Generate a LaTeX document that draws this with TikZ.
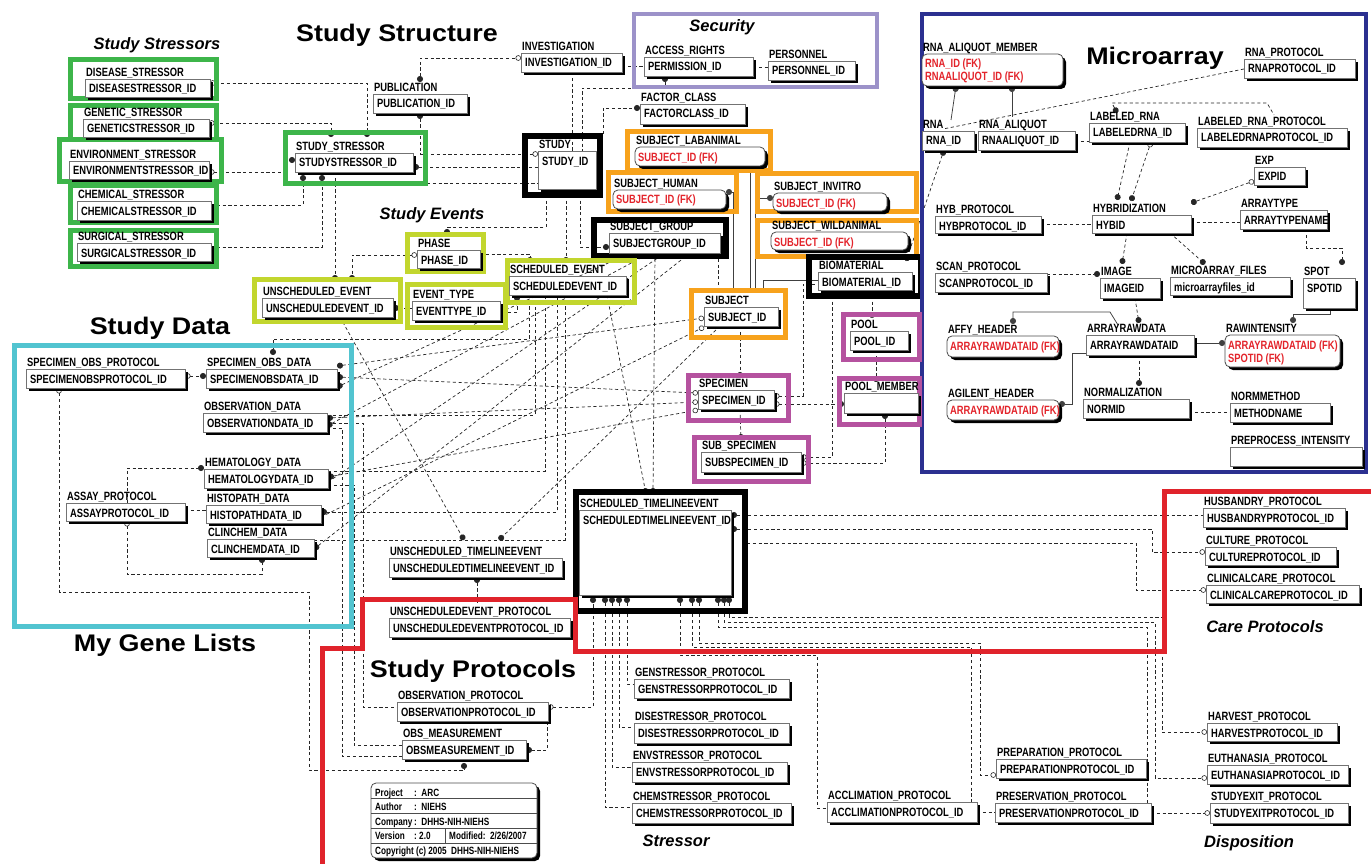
\documentclass[tikz,border=0pt]{standalone}
\usepackage{fontspec}
\setmainfont{Liberation Sans}
\newfontfamily\labf{Liberation Sans}[FakeStretch=0.78]
\newfontfamily\bigf{Liberation Sans}[FakeStretch=1.12]
\usetikzlibrary{arrows.meta}
\pgfdeclarelayer{bg}\pgfdeclarelayer{mid}\pgfsetlayers{bg,mid,main}
\definecolor{cgreen}{HTML}{3DB54A}
\definecolor{clime}{HTML}{C2D62E}
\definecolor{corange}{HTML}{F7A21C}
\definecolor{cpurple}{HTML}{B5529F}
\definecolor{ccyan}{HTML}{52C4D0}
\definecolor{clav}{HTML}{9C92C9}
\definecolor{cnavy}{HTML}{2B3090}
\definecolor{cred}{HTML}{E0232B}
\definecolor{fkred}{HTML}{E3242B}
\tikzset{
 lab/.style={font=\labf\bfseries\fontsize{12}{13}\selectfont, inner sep=0pt, anchor=base west},
 tab/.style={font=\labf\bfseries\fontsize{10.5}{12}\selectfont, inner sep=0pt, anchor=base west},
 ebox/.style={draw=black!55, line width=0.8pt, fill=white, anchor=north west, inner sep=0pt, outer sep=0pt},
 con/.style={dash pattern=on 3.2pt off 2.6pt, line width=0.7pt, black!85},
 sol/.style={line width=0.75pt, black!75},
 grp/.style={line width=5pt},
 bigt/.style={font=\bigf\bfseries\fontsize{24}{26}\selectfont, inner sep=0pt},
 itt/.style={font=\bfseries\itshape\fontsize{16.5}{18}\selectfont, inner sep=0pt},
 od/.tip={Circle[open,length=5.5pt,width=5.5pt,fill=white,line width=0.6pt]},
 fd/.tip={Circle[length=6pt,width=6pt]},
}
\newcommand\ent[7]{%
 \fill[black] (#2+3,#3+3) rectangle (#4+3,#5+3);
 \node[ebox, minimum width=#4pt-#2pt, minimum height=#5pt-#3pt] (#1) at (#2,#3) {};
 \node[lab] (#1k) at (#2+4,#3+14) {#7};
 \node[lab] (#1h) at (#2+1,#3-2.5) {#6};
}
\newcommand\rent[7]{%
 \fill[black, rounded corners=5pt] (#2+3,#3+3) rectangle (#4+3,#5+3);
 \node[ebox, rounded corners=5pt, draw=black!70, minimum width=#4pt-#2pt, minimum height=#5pt-#3pt] (#1) at (#2,#3) {};
 \node[lab, text=fkred] (#1k) at (#2+3,#3+14) {#7};
 \node[lab] (#1h) at (#2+1,#3-2.5) {#6};
}
\begin{document}
\begin{tikzpicture}[x=1pt,y=-1pt]
\useasboundingbox (0,0) rectangle (1371,864);

% ---------------- entities ----------------
\ent{dst}{85}{79}{210}{97}{DISEASE\_STRESSOR}{DISEASESTRESSOR\_ID}
\ent{gst}{83}{119}{209}{137}{GENETIC\_STRESSOR}{GENETICSTRESSOR\_ID}
\ent{est}{69}{161}{209}{179}{ENVIRONMENT\_STRESSOR}{ENVIRONMENTSTRESSOR\_ID}
\ent{cst}{77}{201}{211}{220}{CHEMICAL\_STRESSOR}{CHEMICALSTRESSOR\_ID}
\ent{sst}{77}{243}{211}{261}{SURGICAL\_STRESSOR}{SURGICALSTRESSOR\_ID}
\ent{sts}{295}{153}{413}{172}{STUDY\_STRESSOR}{STUDYSTRESSOR\_ID}
\ent{pub}{373}{94}{467}{113}{PUBLICATION}{PUBLICATION\_ID}
\ent{inv}{521}{53}{622}{72}{INVESTIGATION}{INVESTIGATION\_ID}
\ent{acc}{644}{57}{753}{76}{ACCESS\_RIGHTS}{PERMISSION\_ID}
\ent{per}{768}{61}{855}{80}{PERSONNEL}{PERSONNEL\_ID}
\ent{fac}{640}{104}{745}{124}{FACTOR\_CLASS}{FACTORCLASS\_ID}
\ent{stu}{538}{151}{596}{189}{STUDY}{STUDY\_ID}
\rent{slab}{635}{147}{765}{166}{SUBJECT\_LABANIMAL}{SUBJECT\_ID (FK)}
\rent{shum}{613}{190}{726}{209}{SUBJECT\_HUMAN}{SUBJECT\_ID (FK)}
\rent{sinv}{773}{193}{887}{211}{SUBJECT\_INVITRO}{SUBJECT\_ID (FK)}
\rent{swild}{771}{232}{908}{250}{SUBJECT\_WILDANIMAL}{SUBJECT\_ID (FK)}
\ent{sgrp}{609}{233}{720}{253}{SUBJECT\_GROUP}{SUBJECTGROUP\_ID}
\ent{bio}{818}{272}{912}{290}{BIOMATERIAL}{BIOMATERIAL\_ID}
\rent{rnam}{922}{54}{1063}{86}{RNA\_ALIQUOT\_MEMBER}{RNA\_ID (FK)}
\node[lab, text=fkred] (rnam2) at (925,81) {RNAALIQUOT\_ID (FK)};
\ent{rnap}{1244}{59}{1355}{78}{RNA\_PROTOCOL}{RNAPROTOCOL\_ID}
\ent{rna}{922}{131}{974}{150}{RNA}{RNA\_ID}
\ent{rnaa}{978}{131}{1075}{150}{RNA\_ALIQUOT}{RNAALIQUOT\_ID}
\ent{lrna}{1089}{123}{1185}{142}{LABELED\_RNA}{LABELEDRNA\_ID}
\ent{lrnap}{1197}{128}{1347}{147}{LABELED\_RNA\_PROTOCOL}{LABELEDRNAPROTOCOL\_ID}
\ent{exp}{1254}{167}{1305}{185}{EXP}{EXPID}
\ent{hybp}{935}{216}{1041}{233}{HYB\_PROTOCOL}{HYBPROTOCOL\_ID}
\ent{hyb}{1092}{215}{1191}{233}{HYBRIDIZATION}{HYBID}
\ent{atype}{1240}{210}{1327}{229}{ARRAYTYPE}{ARRAYTYPENAME}
\ent{scanp}{935}{273}{1047}{292}{SCAN\_PROTOCOL}{SCANPROTOCOL\_ID}
\ent{img}{1100}{278}{1160}{298}{IMAGE}{IMAGEID}
\ent{maf}{1170}{277}{1290}{295}{MICROARRAY\_FILES}{microarrayfiles\_id}
\ent{spot}{1303}{278}{1355}{308}{SPOT}{SPOTID}
\rent{affy}{947}{336}{1059}{357}{AFFY\_HEADER}{ARRAYRAWDATAID (FK)}
\ent{ard}{1086}{335}{1194}{355}{ARRAYRAWDATA}{ARRAYRAWDATAID}
\rent{rawi}{1225}{335}{1340}{367}{RAWINTENSITY}{ARRAYRAWDATAID (FK)}
\node[lab, text=fkred] (rawi2) at (1228,362) {SPOTID (FK)};
\rent{agil}{947}{400}{1059}{420}{AGILENT\_HEADER}{ARRAYRAWDATAID (FK)}
\ent{norm}{1083}{399}{1189}{418}{NORMALIZATION}{NORMID}
\ent{nmeth}{1230}{403}{1330}{422}{NORMMETHOD}{METHODNAME}
\ent{ppi}{1230}{447}{1362}{466}{PREPROCESS\_INTENSITY}{}
\ent{phase}{417}{250}{480}{268}{PHASE}{PHASE\_ID}
\ent{uev}{262}{298}{393}{317}{UNSCHEDULED\_EVENT}{UNSCHEDULEDEVENT\_ID}
\ent{evt}{412}{301}{500}{320}{EVENT\_TYPE}{EVENTTYPE\_ID}
\ent{sev}{509}{276}{626}{295}{SCHEDULED\_EVENT}{SCHEDULEDEVENT\_ID}
\ent{subj}{704}{307}{778}{326}{SUBJECT}{SUBJECT\_ID}
\ent{pool}{850}{331}{908}{350}{POOL}{POOL\_ID}
\ent{poolm}{844}{393}{918}{413}{POOL\_MEMBER}{}
\ent{spec}{698}{390}{774}{409}{SPECIMEN}{SPECIMEN\_ID}
\ent{sspec}{701}{452}{801}{472}{SUB\_SPECIMEN}{SUBSPECIMEN\_ID}
\ent{sop}{26}{369}{185}{388}{SPECIMEN\_OBS\_PROTOCOL}{SPECIMENOBSPROTOCOL\_ID}
\ent{sod}{206}{369}{337}{388}{SPECIMEN\_OBS\_DATA}{SPECIMENOBSDATA\_ID}
\ent{obd}{203}{413}{327}{432}{OBSERVATION\_DATA}{OBSERVATIONDATA\_ID}
\ent{hem}{204}{469}{328}{488}{HEMATOLOGY\_DATA}{HEMATOLOGYDATA\_ID}
\ent{asp}{66}{503}{185}{521}{ASSAY\_PROTOCOL}{ASSAYPROTOCOL\_ID}
\ent{his}{206}{505}{321}{523}{HISTOPATH\_DATA}{HISTOPATHDATA\_ID}
\ent{cli}{207}{539}{314}{557}{CLINCHEM\_DATA}{CLINCHEMDATA\_ID}
\ent{ute}{389}{558}{562}{577}{UNSCHEDULED\_TIMELINEEVENT}{UNSCHEDULEDTIMELINEEVENT\_ID}
\ent{ste}{579}{510}{731}{595}{SCHEDULED\_TIMELINEEVENT}{SCHEDULEDTIMELINEEVENT\_ID}
\ent{uep}{389}{618}{570}{637}{UNSCHEDULEDEVENT\_PROTOCOL}{UNSCHEDULEDEVENTPROTOCOL\_ID}
\ent{obp}{397}{702}{548}{721}{OBSERVATION\_PROTOCOL}{OBSERVATIONPROTOCOL\_ID}
\ent{obm}{402}{740}{526}{759}{OBS\_MEASUREMENT}{OBSMEASUREMENT\_ID}
\ent{gsp}{634}{679}{789}{698}{GENSTRESSOR\_PROTOCOL}{GENSTRESSORPROTOCOL\_ID}
\ent{dsp}{634}{723}{789}{743}{DISESTRESSOR\_PROTOCOL}{DISESTRESSORPROTOCOL\_ID}
\ent{esp}{632}{762}{787}{782}{ENVSTRESSOR\_PROTOCOL}{ENVSTRESSORPROTOCOL\_ID}
\ent{csp}{632}{803}{791}{823}{CHEMSTRESSOR\_PROTOCOL}{CHEMSTRESSORPROTOCOL\_ID}
\ent{husp}{1203}{508}{1345}{527}{HUSBANDRY\_PROTOCOL}{HUSBANDRYPROTOCOL\_ID}
\ent{culp}{1205}{547}{1336}{565}{CULTURE\_PROTOCOL}{CULTUREPROTOCOL\_ID}
\ent{clcp}{1206}{585}{1359}{603}{CLINICALCARE\_PROTOCOL}{CLINICALCAREPROTOCOL\_ID}
\ent{harp}{1207}{723}{1337}{741}{HARVEST\_PROTOCOL}{HARVESTPROTOCOL\_ID}
\ent{euthp}{1207}{765}{1348}{784}{EUTHANASIA\_PROTOCOL}{EUTHANASIAPROTOCOL\_ID}
\ent{sexp}{1210}{803}{1348}{823}{STUDYEXIT\_PROTOCOL}{STUDYEXITPROTOCOL\_ID}
\ent{prepp}{996}{759}{1146}{778}{PREPARATION\_PROTOCOL}{PREPARATIONPROTOCOL\_ID}
\ent{presp}{995}{803}{1151}{822}{PRESERVATION\_PROTOCOL}{PRESERVATIONPROTOCOL\_ID}
\ent{accp}{827}{802}{977}{822}{ACCLIMATION\_PROTOCOL}{ACCLIMATIONPROTOCOL\_ID}

% info table
\fill[black, rounded corners=5pt] (374,786) rectangle (540,861);
\node[ebox, rounded corners=5pt, draw=black!70, minimum width=166pt, minimum height=75pt] (info) at (371,783) {};
\foreach \yy in {798,813,828,843} \draw[black!70, line width=0.6pt] (info.west |- 0,\yy) -- (info.east |- 0,\yy);
\draw[black!70, line width=0.6pt] (445,828) -- (445,843);
\node[tab] (i1) at (375,796) {Project};   \node[tab] (i1b) at (414,796) {:\ \ ARC};
\node[tab] (i2) at (375,810) {Author};    \node[tab] (i2b) at (414,810) {:\ \ NIEHS};
\node[tab] (i3) at (375,825) {Company};   \node[tab] (i3b) at (414,825) {:\ \ DHHS-NIH-NIEHS};
\node[tab] (i4) at (375,839) {Version};   \node[tab] (i4b) at (414,839) {:\ 2.0};
\node[tab] (i4c) at (449,839) {Modified:\ \ 2/26/2007};
\node[tab] (i5) at (375,854) {Copyright (c) 2005\ \ DHHS-NIH-NIEHS};

% ---------------- connectors ----------------
\begin{pgfonlayer}{bg}
% stressors
\draw[con,od-fd] (dst.east |- 0,83) -- (367,83) -- (367,137);
\draw[con,od-fd] (gst.east |- 0,123) -- (331,123) -- (331,137);
\draw[con,od-fd] (est.east |- 0,172) -- (284,172) -- (284,160) -- (sts.west |- 0,160);
\draw[con,-fd] (cst.east |- 0,205) -- (303,205) -- (303,175);
\draw[con,-fd] (sst.east |- 0,247) -- (322,247) -- (322,175);
\draw[con,-fd] (335,0 |- sts.south) -- (335,281);
\draw[con,od-fd] (phase.west |- 0,255) -- (352,255) -- (352,281);
\draw[con,fd-] (sts.east |- 0,167) -- (stu.west |- 0,167);
\draw[con,fd-od] (420,0 |- pub.south) -- (420,154) -- (stu.west |- 0,154);
\draw[con,fd-od] (420,82) -- (420,58) -- (inv.west |- 0,58);
\draw[con] (427,183) -- (stu.west |- 0,183);
\draw[con] (inv.east |- 0,66) -- (acc.west |- 0,66);
\draw[con] (acc.east |- 0,67) -- (per.west |- 0,67);
\draw[con,fd-] (665,0 |- acc.south) -- (665,88) -- (582,88) -- (582,0 |- stu.north);
\draw[con] (572,0 |- inv.south) -- (572,0 |- stu.north);
\draw[con,-fd] (603,134) -- (603,108) -- (fac.west |- 0,108);
\draw[con,-fd] (546,0 |- stu.south) -- (546,227) -- (447,227) -- (447,235);
\draw[con,-fd] (566,0 |- stu.south) -- (566,263);
\draw[con,-fd] (580,0 |- stu.south) -- (580,247) -- (sgrp.west |- 0,247);
\draw[con,-fd] (phase.east |- 0,254) -- (530,254) -- (530,263);
\draw[con,fd-] (uev.east |- 0,308) -- (evt.west |- 0,308);
\draw[con,fd-] (517,0 |- sev.south) -- (517,312) -- (evt.east |- 0,312);
% subject area
\draw[con] (718,0 |- sgrp.south) -- (718,290);
\draw[sol,fd-] (750,0 |- slab.south) -- (750,290);
\draw[sol,fd-] (shum.east |- 0,192) -- (733,192) -- (733,290);
\draw[sol,fd-] (sinv.west |- 0,198) -- (755,198) -- (755,290);
\draw[sol] (bio.west |- 0,280) -- (763,280) -- (763,290);
\draw[con,-fd] (740,0 |- subj.south) -- (740,378);
\draw[con,-fd] (740,0 |- spec.south) -- (741,440);
\draw[con,od-] (spec.east |- 0,396) -- (803,396) -- (803,284) -- (bio.west |- 0,284);
\draw[con,od-fd] (spec.east |- 0,404) -- (poolm.west |- 0,404);
\draw[con,-od] (832,0 |- bio.south) -- (832,457) -- (sspec.east |- 0,457);
\draw[con,-od] (872,0 |- bio.south) -- (872,318);
\draw[con,-fd] (876,0 |- pool.south) -- (876,382);
\draw[con,fd-od] (885,0 |- poolm.south) -- (885,463) -- (sspec.east |- 0,463);
\draw[con,fd-fd] (944,0 |- rna.south) -- (906,261);
% tangle
\draw[con,fd-od] (sod.east |- 0,366) -- (subj.west |- 0,318);
\draw[con,fd-od] (sod.east |- 0,377) -- (spec.west |- 0,393);
\draw[con,fd-] (sod.east |- 0,387) -- (630,0 |- sgrp.south);
\draw[con,fd-] (273,355) -- (273,339) -- (529,339) -- (529,0 |- sev.south);
\draw[con,fd-od] (obd.east |- 0,418) -- (spec.west |- 0,402);
\draw[con] (obd.east |- 0,415) -- (535,415) -- (535,0 |- sev.south);
\draw[con,fd-] (obd.east |- 0,426) -- (650,0 |- sgrp.south);
\draw[con,fd-od] (hem.east |- 0,477) -- (spec.west |- 0,410);
\draw[con] (hem.east |- 0,471) -- (545,471) -- (545,0 |- sev.south);
\draw[con] (hem.east |- 0,482) -- (665,0 |- sgrp.south);
\draw[con,fd-] (his.east |- 0,512) -- (557,512) -- (557,0 |- sev.south);
\draw[con,-od] (his.east |- 0,517) -- (subj.west |- 0,327);
\draw[con] (cli.east |- 0,540) -- (565,540) -- (565,0 |- sev.south);
\draw[con,fd-] (cli.east |- 0,549) -- (690,0 |- sgrp.south);
\draw[con,-fd] (340,0 |- uev.south) -- (464,540);
\draw[con,-fd] (720,0 |- subj.south) -- (499,540);
\draw[con,-fd] (607,0 |- sev.south) -- (646,494);
\draw[con,-fd] (655,0 |- sgrp.south) -- (653,494);
\draw[con,od-fd] (59,0 |- sop.south) -- (59,592) -- (309,592) -- (309,770) -- (464,770) -- (464,763);
\draw[con] (obd.east |- 0,428) -- (342,428) -- (342,756) -- (obm.west |- 0,756);
\draw[con] (obd.east |- 0,423) -- (363,423) -- (363,707) -- (obp.west |- 0,707);
\draw[con] (hem.east |- 0,485) -- (354,485) -- (354,745) -- (obm.west |- 0,745);
\draw[con,fd-] (obm.east |- 0,750) -- (547,750) -- (547,0 |- obp.south);
\draw[con,od-fd] (obp.east |- 0,707) -- (593,707) -- (593,597);
\draw[con,fd-] (605,597) -- (605,807) -- (csp.west |- 0,807);
\draw[con,fd-] (612,597) -- (612,767) -- (esp.west |- 0,767);
\draw[con,fd-] (619,597) -- (619,727) -- (dsp.west |- 0,727);
\draw[con,fd-] (627,597) -- (627,684) -- (gsp.west |- 0,684);
\draw[con,fd-] (680,597) -- (680,655) -- (817,655) -- (817,808) -- (accp.west |- 0,808);
\draw[con,fd-] (692,597) -- (692,647) -- (971,647) -- (971,812);
\draw[con] (accp.east |- 0,812) -- (presp.west |- 0,812);
\draw[con,fd-od] (699,597) -- (699,643) -- (980,643) -- (980,775) -- (prepp.west |- 0,775);
\draw[con,fd-] (718,597) -- (718,627) -- (1147,627) -- (1147,0 |- presp.north);
\draw[con,fd-od] (724,597) -- (724,622) -- (1155,622) -- (1155,778) -- (euthp.west |- 0,778);
\draw[con,fd-od] (729,597) -- (729,617) -- (1162,617) -- (1162,732) -- (harp.west |- 0,732);
\draw[con,-od] (presp.east |- 0,813) -- (sexp.west |- 0,813);
\draw[con,fd-] (ste.east |- 0,515) -- (husp.west |- 0,515);
\draw[con,fd-od] (ste.east |- 0,529) -- (1152,529) -- (1152,552) -- (culp.west |- 0,552);
\draw[con,-od] (747,543) -- (1136,543) -- (1136,590) -- (clcp.west |- 0,590);
\draw[con,fd-] (477,0 |- ute.south) -- (477,604);
% study data internal
\draw[con,od-fd] (sop.east |- 0,376) -- (sod.west |- 0,376);
\draw[con] (asp.east |- 0,510) -- (his.west |- 0,510);
\draw[con,-fd] (127,0 |- asp.north) -- (127,468) -- (hem.west |- 0,468);
\draw[con,od-fd] (127,0 |- asp.south) -- (127,574) -- (262,574) -- (262,0 |- cli.south);
% microarray
\draw[sol,fd-] (956,0 |- rnam.south) -- (951,120);
\draw[sol,fd-] (1012,0 |- rnam.south) -- (1012,117);
\draw[con] (rnap.west |- 0,69) -- (943,129);
\draw[con] (rnaa.east |- 0,141) -- (lrna.west |- 0,141);
\draw[con,fd-] (1117,113) -- (1112,103) -- (1267,103) -- (1274,115);
\draw[con,-fd] (1130,0 |- lrna.south) -- (1117,200);
\draw[con,od-fd] (1151,0 |- lrna.south) -- (1131,201);
\draw[con,od-fd] (exp.west |- 0,181) -- (1191,203);
\draw[con] (hybp.east |- 0,224) -- (hyb.west |- 0,224);
\draw[con] (hyb.east |- 0,222) -- (atype.west |- 0,222);
\draw[con,-fd] (1306,0 |- atype.south) -- (1306,248) -- (1342,248) -- (1342,265);
\draw[con,-fd] (1127,0 |- hyb.south) -- (1122,264);
\draw[con,-fd] (1170,0 |- hyb.south) -- (1205,264);
\draw[con,-fd] (scanp.east |- 0,274) -- (1100,274);
\draw[con,-fd] (1135,0 |- img.south) -- (1139,323);
\draw[sol,-fd] (1330,0 |- spot.south) -- (1330,314) -- (1293,314) -- (1293,323);
\draw[sol,-fd] (ard.east |- 0,343) -- (rawi.west |- 0,343);
\draw[sol,-fd] (1118,325) -- (1110,312) -- (1013,312) -- (1013,324);
\draw[sol,-fd] (ard.west |- 0,353) -- (1072,353) -- (1072,404) -- (agil.east |- 0,404);
\draw[con,-fd] (1139,0 |- ard.south) -- (1139,386);
\draw[con] (norm.east |- 0,412) -- (nmeth.west |- 0,412);
\end{pgfonlayer}

% ---------------- group frames ----------------
\begin{pgfonlayer}{mid}
\draw[grp,cgreen] (70,60) rectangle (216,99);
\draw[grp,cgreen] (70,106) rectangle (216,140);
\draw[grp,cgreen] (70,185) rectangle (216,222);
\draw[grp,cgreen] (70,230) rectangle (216,266);
\draw[grp,cgreen] (59,140) rectangle (221,181);
\draw[grp,cgreen] (285,133) rectangle (425,183);
\draw[line width=4pt,clav] (634,14) rectangle (877,87);
\draw[line width=6pt,black] (525,136) rectangle (600,195);
\draw[grp,corange] (627,132) rectangle (770,171);
\draw[grp,corange] (608,173) rectangle (736,211);
\draw[grp,corange] (757,174) rectangle (916,211);
\draw[grp,corange] (757,220) rectangle (916,256);
\draw[line width=6pt,black] (594,220) rectangle (726,256);
\draw[line width=6pt,black] (809,257) rectangle (921,296);
\draw[line width=4pt,cnavy] (922,14) rectangle (1366,472);
\draw[grp,clime] (407,234) rectangle (483,271);
\draw[grp,clime] (254,279) rectangle (400,321);
\draw[grp,clime] (407,284) rectangle (505,327);
\draw[grp,clime] (507,260) rectangle (634,302);
\draw[grp,corange] (691,290) rectangle (785,337);
\draw[grp,cpurple] (843,314) rectangle (919,359);
\draw[grp,cpurple] (839,378) rectangle (919,424);
\draw[grp,cpurple] (688,375) rectangle (788,420);
\draw[grp,cpurple] (694,437) rectangle (808,481);
\draw[grp,ccyan] (14,345) rectangle (351,626);
\draw[line width=6pt,black] (576,492) rectangle (745,611);
\draw[grp,cred] (322,866) -- (322,648) -- (362,648) -- (362,599) -- (575,599) -- (575,651) -- (1164,651) -- (1164,491) -- (1373,491);
\end{pgfonlayer}

% ---------------- titles ----------------
\node[bigt] (tStruct) at (397,35) {Study Structure};
\node[bigt] (tMicro) at (1155,58) {Microarray};
\node[bigt] (tData) at (160,328) {Study Data};
\node[bigt] (tGene) at (165,645) {My Gene Lists};
\node[bigt] (tProt) at (473,671) {Study Protocols};
\node[itt] (tStress) at (157,45) {Study Stressors};
\node[itt] (tSec) at (722,27) {Security};
\node[itt] (tEvents) at (432,215) {Study Events};
\node[itt] (tCare) at (1265,627) {Care Protocols};
\node[itt] (tStressor) at (676,841) {Stressor};
\node[itt] (tDisp) at (1249,843) {Disposition};
\end{tikzpicture}
\end{document}
